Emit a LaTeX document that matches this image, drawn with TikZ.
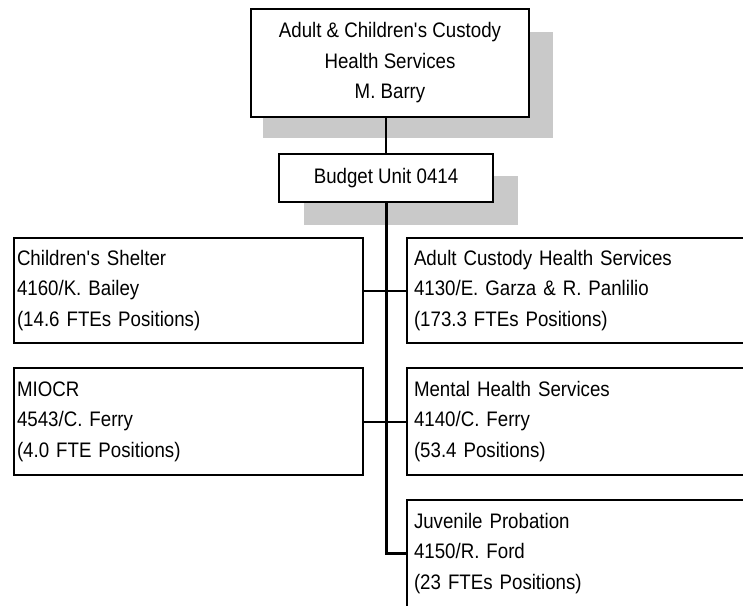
\documentclass[tikz,border=0pt]{standalone}
\usepackage{fontspec}
\setmainfont[FakeStretch=0.89]{Liberation Sans}
\definecolor{shadowgray}{gray}{0.79}
\newcommand{\apos}{\textquotesingle}

\begin{document}
\begin{tikzpicture}[x=1pt, y=-1pt,
	box/.style={draw, line width=2pt, fill=white, anchor=north west, inner ysep=0pt,
		font=\fontsize{21}{30.5}\selectfont},
	leftunit/.style={box, minimum width=349pt, inner xsep=3pt, text width=343pt, align=left},
	rightunit/.style={box, minimum width=349pt, inner xsep=7pt, text width=335pt, align=left},
	link/.style={line width=2pt}]
		\path[use as bounding box, clip] (0,0) rectangle (743,605);

		% grey shadows behind the two top boxes
		\fill[shadowgray] (263,32) rectangle (553,138);
		\fill[shadowgray] (304,176) rectangle (518,225);

		\node[box, minimum width=278pt, minimum height=108pt, align=center] (head) at (250,8)
			{Adult \& Children\apos s Custody\\Health Services\\M. Barry};
		\node[box, minimum width=214pt, minimum height=48pt] (budget) at (278,153) {Budget Unit 0414};

		\node[leftunit, minimum height=105pt] (shelter) at (13,237)
			{Children\apos s Shelter\\4160/K. Bailey\\(14.6 FTEs Positions)};
		\node[rightunit, minimum height=105pt] (adult) at (406,237)
			{Adult Custody Health Services\\4130/E. Garza \& R. Panlilio\\(173.3 FTEs Positions)};
		\node[leftunit, minimum height=107pt] (miocr) at (13,367)
			{MIOCR\\4543/C. Ferry\\(4.0 FTE Positions)};
		\node[rightunit, minimum height=107pt] (mental) at (406,367)
			{Mental Health Services\\4140/C. Ferry\\(53.4 Positions)};
		\node[rightunit, minimum height=107pt] (juvenile) at (406,499)
			{Juvenile Probation\\4150/R. Ford\\(23 FTEs Positions)};

		\draw[link, line width=2.5pt] (budget.north) -- (budget.north |- head.south);
		\draw[link] (shelter.east) -- (adult.west);
		\draw[link] (miocr.east) -- (mental.west);
		\draw[link, line width=3pt] (budget.south) |- (juvenile.west);
\end{tikzpicture}
\end{document}
